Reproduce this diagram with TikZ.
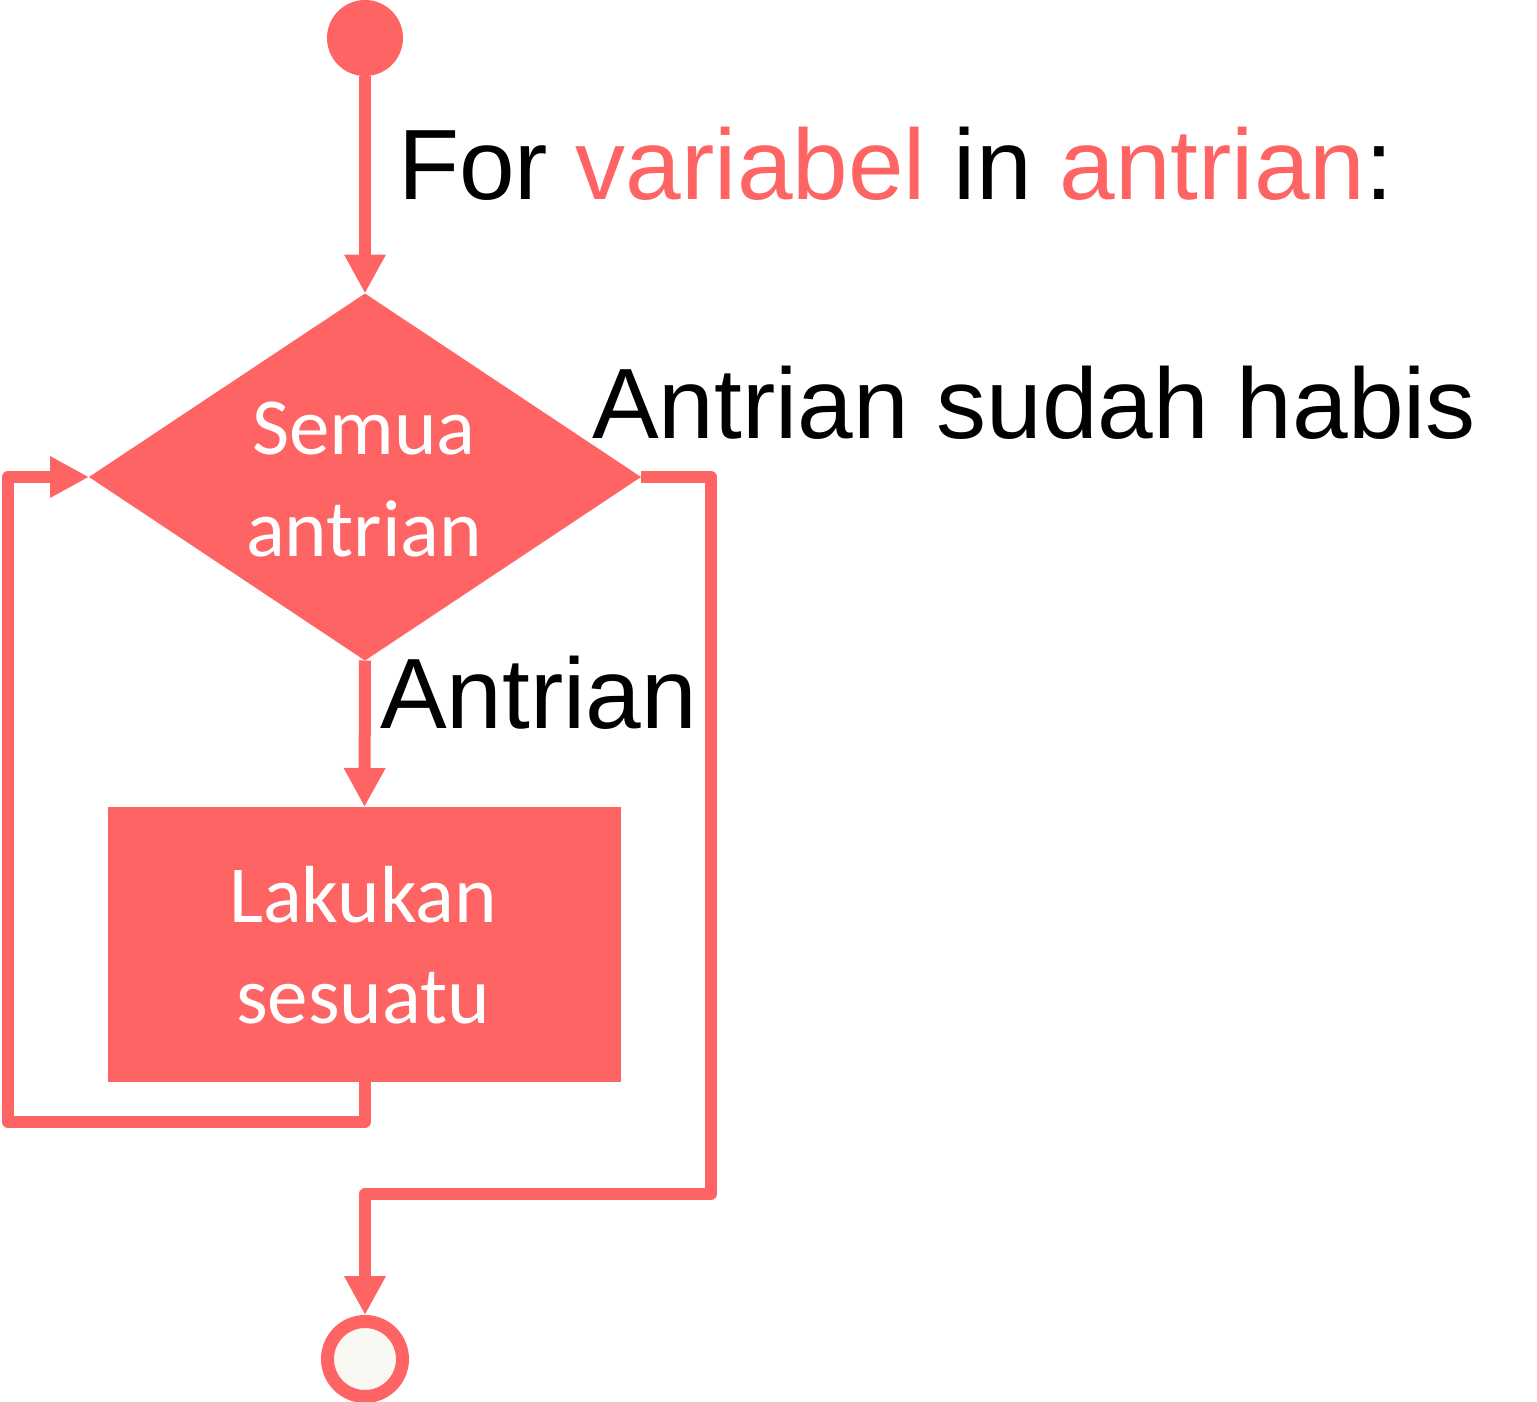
\documentclass[tikz,border=0pt]{standalone}
\usepackage{fontspec}
\setmainfont{Liberation Sans}
\newfontfamily\calibri{Carlito}
\usetikzlibrary{arrows.meta,shapes.geometric}
\definecolor{coral}{RGB}{255,100,100}
\definecolor{offwhite}{RGB}{250,248,242}
\begin{document}
\begin{tikzpicture}[x=1pt,y=-1pt,
  conn/.style={draw=coral,line width=12pt,line join=round},
  arr/.style={conn,-{Triangle[length=39pt,width=39pt]}},
  wtext/.style={text=white,inner sep=0,anchor=base,font=\calibri\fontsize{81}{100}\selectfont},
  btext/.style={text=black,inner sep=0,anchor=base west,font=\fontsize{100}{120}\selectfont},
  shapefill/.style={fill=coral,draw=none,inner sep=0,outer sep=0}]
\useasboundingbox (0,0) rectangle (1537,1402);
% nodes
\node[shapefill,circle,minimum size=76pt] (start) at (365,38) {};
\node[shapefill,diamond,minimum width=552pt,minimum height=367pt] (d) at (365,477) {};
\node[shapefill,rectangle,minimum width=513pt,minimum height=275pt] (box) at (364.5,944.5) {};
\node[circle,draw=coral,fill=offwhite,line width=13pt,minimum size=75pt,inner sep=0,outer sep=6.5pt] (end) at (365,1359) {};
% texts
\node[wtext] (d1) at (364,454) {Semua};
\node[wtext] (d2) at (364,556) {antrian};
\node[wtext] (b1) at (363,922) {Lakukan};
\node[wtext] (b2) at (363,1023) {sesuatu};
\node[btext] (title) at (398,200) {For \textcolor{coral}{variabel} in \textcolor{coral}{antrian}:};
\node[btext] (habis) at (592,438) {Antrian sudah habis};
\node[btext] (yes) at (380,728) {Antrian};
% connectors
\coordinate (lb) at (8,1122);
\coordinate (rt) at (711,1194);
\draw[arr] (start.south) -- (d.north);
\draw[arr] (d.south) -- (box.north);
\draw[arr] (box.south) |- (lb) |- (d.west);
\draw[arr] (d.east) -| (rt) -| (end.north);
\end{tikzpicture}
\end{document}
